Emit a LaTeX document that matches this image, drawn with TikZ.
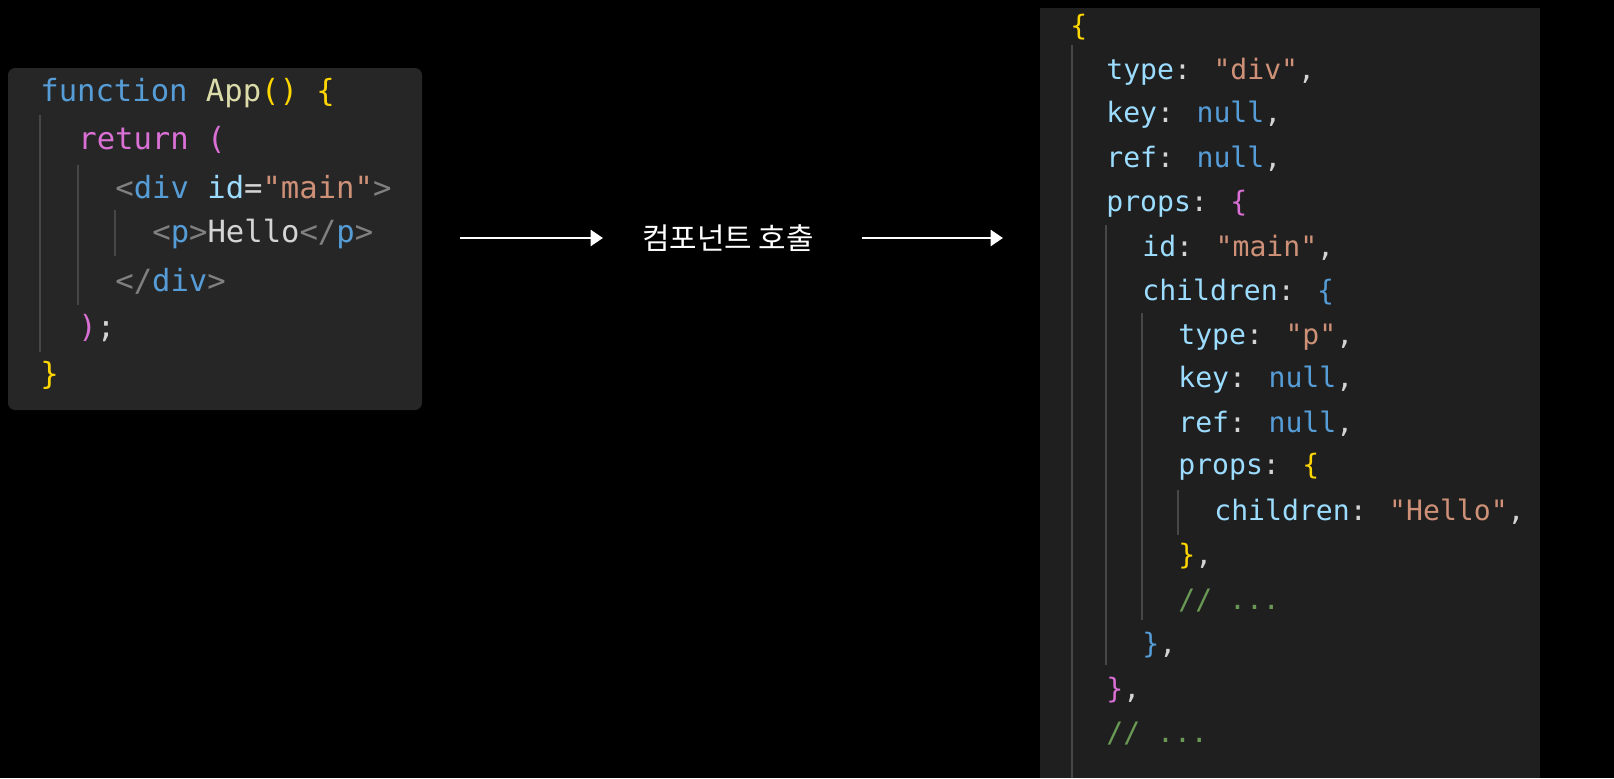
\documentclass[tikz,border=0pt]{standalone}
\usepackage{fontspec}
\usepackage{xcolor}
\usetikzlibrary{arrows.meta, positioning, calc}
\newfontfamily\codefont{DejaVu Sans Mono}
\newfontfamily\krfont{Noto Sans CJK KR}
\definecolor{kw}{HTML}{569CD6}
\definecolor{fn}{HTML}{DCDCAA}
\definecolor{br}{HTML}{FFD700}
\definecolor{pu}{HTML}{DA70D6}
\definecolor{st}{HTML}{CE9178}
\definecolor{pr}{HTML}{9CDCFE}
\definecolor{tg}{HTML}{808080}
\definecolor{cm}{HTML}{6A9955}
\definecolor{tx}{HTML}{D4D4D4}
\newcommand{\K}[1]{\textcolor{kw}{#1}}
\newcommand{\Y}[1]{\textcolor{br}{#1}}
\newcommand{\F}[1]{\textcolor{fn}{#1}}
\newcommand{\Pu}[1]{\textcolor{pu}{#1}}
\newcommand{\Sg}[1]{\textcolor{st}{#1}}
\newcommand{\Pk}[1]{\textcolor{pr}{#1}}
\newcommand{\G}[1]{\textcolor{tg}{#1}}

\begin{document}
\begin{tikzpicture}[
    x=0.02cm, y=-0.02cm,
    lcode/.style={anchor=west, inner sep=0pt, text=tx, font=\codefont\fontsize{17.4}{20}\selectfont},
    rcode/.style={anchor=west, inner sep=0pt, text=tx, font=\codefont\fontsize{16}{19}\selectfont},
    guide/.style={draw=white!28!black, line width=1pt},
    arrow/.style={-{Triangle[length=7pt,width=9pt]}, draw=white, line width=1.6pt}
]

% background and code panels
\fill[black] (0,0) rectangle (1614,778);
\fill[white!15!black, rounded corners=4pt] (8,68) rectangle (422,410);
\fill[white!12!black] (1040,8) rectangle (1540,778);

% indent guides
\draw[guide] (40,115) -- (40,352);
\draw[guide] (78,165) -- (78,305);
\draw[guide] (115,210) -- (115,256);
\draw[guide] (1072,45) -- (1072,778);
\draw[guide] (1106,225) -- (1106,665);
\draw[guide] (1142,313) -- (1142,620);
\draw[guide] (1178,490) -- (1178,535);

% left: JSX source
\node[lcode] (l1) at (40,93)  {\K{function} \F{App}\Y{() \{}};
\node[lcode] (l2) at (78,140) {\Pu{return (}};
\node[lcode] (l3) at (115,187) {\G{<}\K{div} \Pk{id}=\Sg{"main"}\G{>}};
\node[lcode] (l4) at (152,234) {\G{<}\K{p}\G{>}Hello\G{</}\K{p}\G{>}};
\node[lcode] (l5) at (115,281) {\G{</}\K{div}\G{>}};
\node[lcode] (l6) at (78,328) {\Pu{)};};
\node[lcode] (l7) at (40,375) {\Y{\}}};

% middle: call
\coordinate (a1s) at (460,238);
\coordinate (a1e) at (603,238);
\node[text=white, font=\krfont\fontsize{17}{20}\selectfont] (call) at (728,238) {컴포넌트 호출};
\coordinate (a2s) at (862,238);
\coordinate (a2e) at (1003,238);
\draw[arrow] (a1s) -- (a1e);
\draw[arrow] (a2s) -- (a2e);

% right: element object
\node[rcode] (r1)  at (1070,27)  {\Y{\{}};
\node[rcode] (r2)  at (1106,72)  {\Pk{type}: \Sg{"div"},};
\node[rcode] (r3)  at (1106,115) {\Pk{key}: \K{null},};
\node[rcode] (r4)  at (1106,159) {\Pk{ref}: \K{null},};
\node[rcode] (r5)  at (1106,204) {\Pk{props}: \Pu{\{}};
\node[rcode] (r6)  at (1142,248) {\Pk{id}: \Sg{"main"},};
\node[rcode] (r7)  at (1142,292) {\Pk{children}: \K{\{}};
\node[rcode] (r8)  at (1178,337) {\Pk{type}: \Sg{"p"},};
\node[rcode] (r9)  at (1178,380) {\Pk{key}: \K{null},};
\node[rcode] (r10) at (1178,424) {\Pk{ref}: \K{null},};
\node[rcode] (r11) at (1178,467) {\Pk{props}: \Y{\{}};
\node[rcode] (r12) at (1214,512) {\Pk{children}: \Sg{"Hello"},};
\node[rcode] (r13) at (1178,556) {\Y{\}},};
\node[rcode] (r14) at (1178,601) {\textcolor{cm}{// ...}};
\node[rcode] (r15) at (1142,645) {\K{\}},};
\node[rcode] (r16) at (1106,690) {\Pu{\}},};
\node[rcode] (r17) at (1106,734) {\textcolor{cm}{// ...}};

\end{tikzpicture}
\end{document}
